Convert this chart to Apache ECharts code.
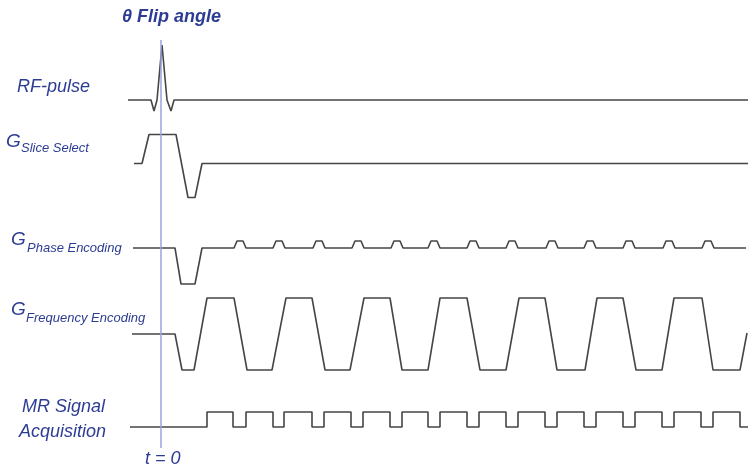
<!DOCTYPE html>
<html>
<head>
<meta charset="utf-8">
<script src="https://cdn.jsdelivr.net/npm/echarts@6/dist/echarts.min.js"></script>
<style>
  html, body { margin: 0; padding: 0; background: #fff; }
  #chart { width: 748px; height: 467px; }
</style>
</head>
<body>
<div id="chart"></div>
<script>
// time axis: t = 0 at the flip angle line, amplitudes relative to each channel's baseline
var rfPulse = [[-33, 0], [-10, 0], [-7, -11], [-4, 0], [1, 55], [6, 0], [10, -11], [13, 0], [587, 0]];

var sliceSelect = [[-27, 0], [-19, 0], [-12, 29], [15, 29], [27, -34], [34, -34], [41, 0], [587, 0]];

var phaseEncoding = [
    [-28, 0], [14, 0], [20, -36], [34, -36], [41, 0],
    [73, 0], [76, 7], [82, 7], [85, 0],
    [112, 0], [115, 7], [121, 7], [124, 0],
    [152, 0], [155, 7], [161, 7], [164, 0],
    [191, 0], [194, 7], [200, 7], [203, 0],
    [230, 0], [233, 7], [239, 7], [242, 0],
    [267, 0], [270, 7], [276, 7], [279, 0],
    [306, 0], [309, 7], [315, 7], [318, 0],
    [345, 0], [348, 7], [354, 7], [357, 0],
    [385, 0], [388, 7], [394, 7], [397, 0],
    [423, 0], [426, 7], [432, 7], [435, 0],
    [462, 0], [465, 7], [471, 7], [474, 0],
    [502, 0], [505, 7], [511, 7], [514, 0],
    [541, 0], [544, 7], [550, 7], [553, 0],
    [585, 0]
];

var frequencyEncoding = [
    [-29, 0], [14, 0], [21, -36], [33, -36], [46, 36], [73, 36],
    [86, -36], [111, -36], [125, 36], [151, 36],
    [164, -36], [189, -36], [203, 36], [229, 36],
    [241, -36], [267, -36], [279, 36], [306, 36],
    [319, -36], [345, -36], [358, 36], [384, 36],
    [396, -36], [424, -36], [436, 36], [462, 36],
    [475, -36], [501, -36], [513, 36], [541, 36],
    [552, -36], [579, -36], [586, 1]
];

// acquisition windows (on, off)
var acqWindows = [[46, 72], [85, 112], [123, 151], [163, 190], [202, 229], [241, 267],
    [279, 306], [318, 345], [357, 384], [396, 423], [435, 462], [474, 501], [513, 540], [552, 579]];
var acqStart = -31, acqEnd = 587, acqHigh = 15;

var channels = [
    { name: 'RF-pulse', base: 100, data: rfPulse },
    { name: 'Slice Select', base: 163.5, data: sliceSelect },
    { name: 'Phase Encoding', base: 248, data: phaseEncoding },
    { name: 'Frequency Encoding', base: 334, data: frequencyEncoding }
];

var mrSignal = [[acqStart, 0]];
acqWindows.forEach(function (w) {
    mrSignal.push([w[0], 0], [w[0], acqHigh], [w[1], acqHigh], [w[1], 0]);
});
mrSignal.push([acqEnd, 0]);
channels.push({ name: 'MR Signal', base: 427, data: mrSignal });

var labelColor = '#2d3c93';
var lineColor = '#454545';

var series = channels.map(function (ch, i) {
    var s = {
        name: ch.name,
        type: 'line',
        symbol: 'none',
        silent: true,
        lineStyle: { color: lineColor, width: 1.6 },
        data: ch.data.map(function (p) { return [p[0], ch.base - p[1]]; })
    };
    if (i === 0) {
        s.markLine = {
            symbol: 'none',
            silent: true,
            label: { show: false },
            lineStyle: { color: '#97a3e0', width: 1.5, type: 'solid' },
            data: [[{ coord: [0, 40] }, { coord: [0, 448] }]]
        };
    }
    return s;
});

function txt(x, y, text, size, bold) {
    return {
        type: 'text',
        x: x, y: y,
        silent: true,
        style: {
            text: text,
            fill: labelColor,
            font: 'italic ' + (bold ? 'bold ' : '') + size + 'px "Liberation Sans", Arial, sans-serif',
            verticalAlign: 'middle',
            align: 'left'
        }
    };
}

var chart = echarts.init(document.getElementById('chart'));
chart.setOption({
    animation: false,
    backgroundColor: '#fff',
    grid: { left: 0, right: 0, top: 0, bottom: 0 },
    xAxis: { type: 'value', min: -161, max: 587, show: false },
    yAxis: { type: 'value', min: 0, max: 467, inverse: true, show: false },
    series: series,
    graphic: [
        txt(122, 17, 'θ Flip angle', 18, true),
        txt(17, 87, 'RF-pulse', 18),
        txt(6, 142, 'G', 19),
        txt(21, 148, 'Slice Select', 13),
        txt(11, 240, 'G', 19),
        txt(27, 248, 'Phase Encoding', 13),
        txt(11, 310, 'G', 19),
        txt(26, 318, 'Frequency Encoding', 13),
        txt(22, 407, 'MR Signal', 18),
        txt(19, 432, 'Acquisition', 18),
        txt(145, 459, 't = 0', 18)
    ]
});
</script>
</body>
</html>
